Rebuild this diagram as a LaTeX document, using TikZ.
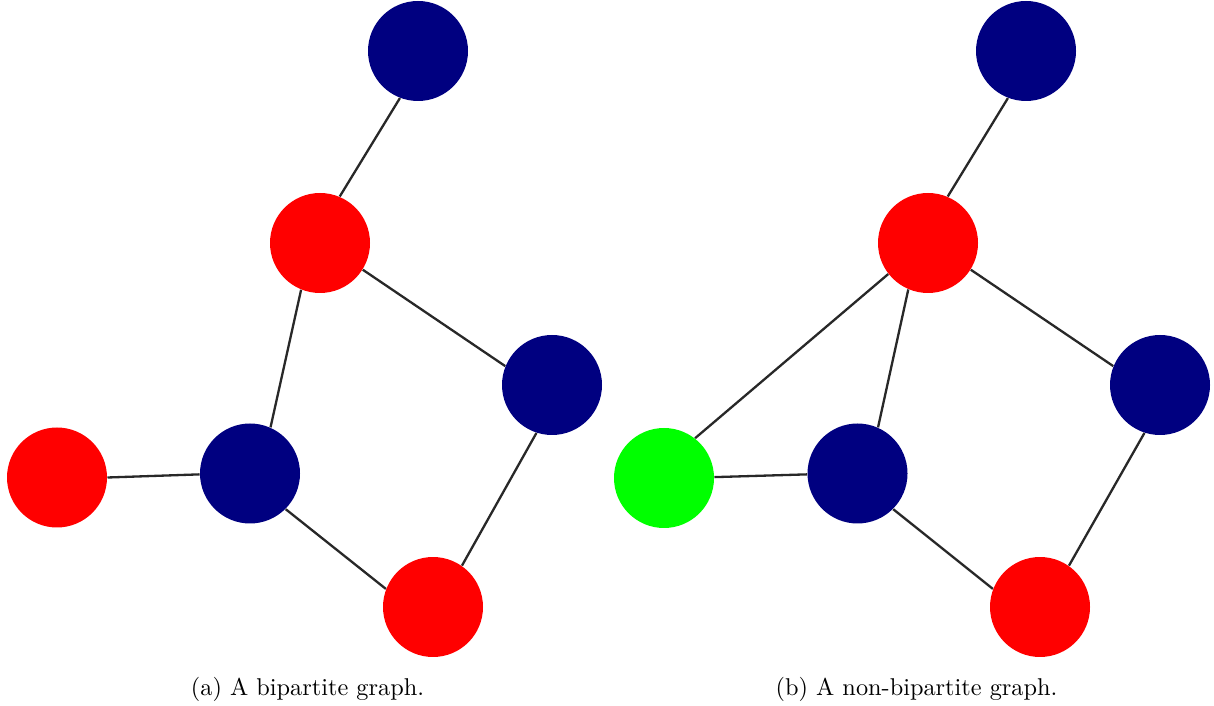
\documentclass[tikz,border=0pt]{standalone}
\definecolor{navyblue}{RGB}{0,0,128}
\definecolor{pureRed}{RGB}{255,0,0}
\definecolor{pureGreen}{RGB}{0,255,0}
\definecolor{edgegray}{RGB}{40,40,40}
\tikzset{
  vtx/.style={circle, minimum size=41.15pt, inner sep=0pt, draw=none},
  bluev/.style={vtx, fill=navyblue},
  redv/.style={vtx, fill=pureRed},
  greenv/.style={vtx, fill=pureGreen},
  edge/.style={draw=edgegray, line width=0.95pt},
  capt/.style={anchor=base, inner sep=0pt, font=\normalsize}
}
\begin{document}
\begin{tikzpicture}[x=0.41152pt, y=-0.41152pt]
\useasboundingbox (0,0) rectangle (1214,706);
% graph (a)
\node[bluev] (a1) at (418,51) {};
\node[redv]  (a2) at (320,243) {};
\node[bluev] (a3) at (552,385) {};
\node[redv]  (a4) at (57,477.5) {};
\node[bluev] (a5) at (250,473.5) {};
\node[redv]  (a6) at (433,607) {};
\draw[edge] (a1.249) -- (a2.67.5);
\draw[edge] (a2.-32) -- (a3.158);
\draw[edge] (a2.248.5) -- (a5.66);
\draw[edge] (a4.0.5) -- (a5.181);
\draw[edge] (a5.-45) -- (a6.159.5);
\draw[edge] (a3.252.5) -- (a6.55.5);
% graph (b)
\node[bluev]  (b1) at (1026,51) {};
\node[redv]   (b2) at (928,243) {};
\node[bluev]  (b3) at (1160,385) {};
\node[greenv] (b4) at (664,478) {};
\node[bluev]  (b5) at (857.5,473.5) {};
\node[redv]   (b6) at (1040,607) {};
\draw[edge] (b1.249) -- (b2.67.5);
\draw[edge] (b2.-32) -- (b3.158);
\draw[edge] (b2.247.5) -- (b5.66);
\draw[edge] (b2.218) -- (b4.52.5);
\draw[edge] (b4.1.5) -- (b5.181);
\draw[edge] (b5.-45) -- (b6.159.5);
\draw[edge] (b3.252.5) -- (b6.55.5);
% captions
\node[capt] (ca) at (307.5,695) {(a) A bipartite graph.};
\node[capt] (cb) at (916.5,695) {(b) A non-bipartite graph.};
\end{tikzpicture}
\end{document}
